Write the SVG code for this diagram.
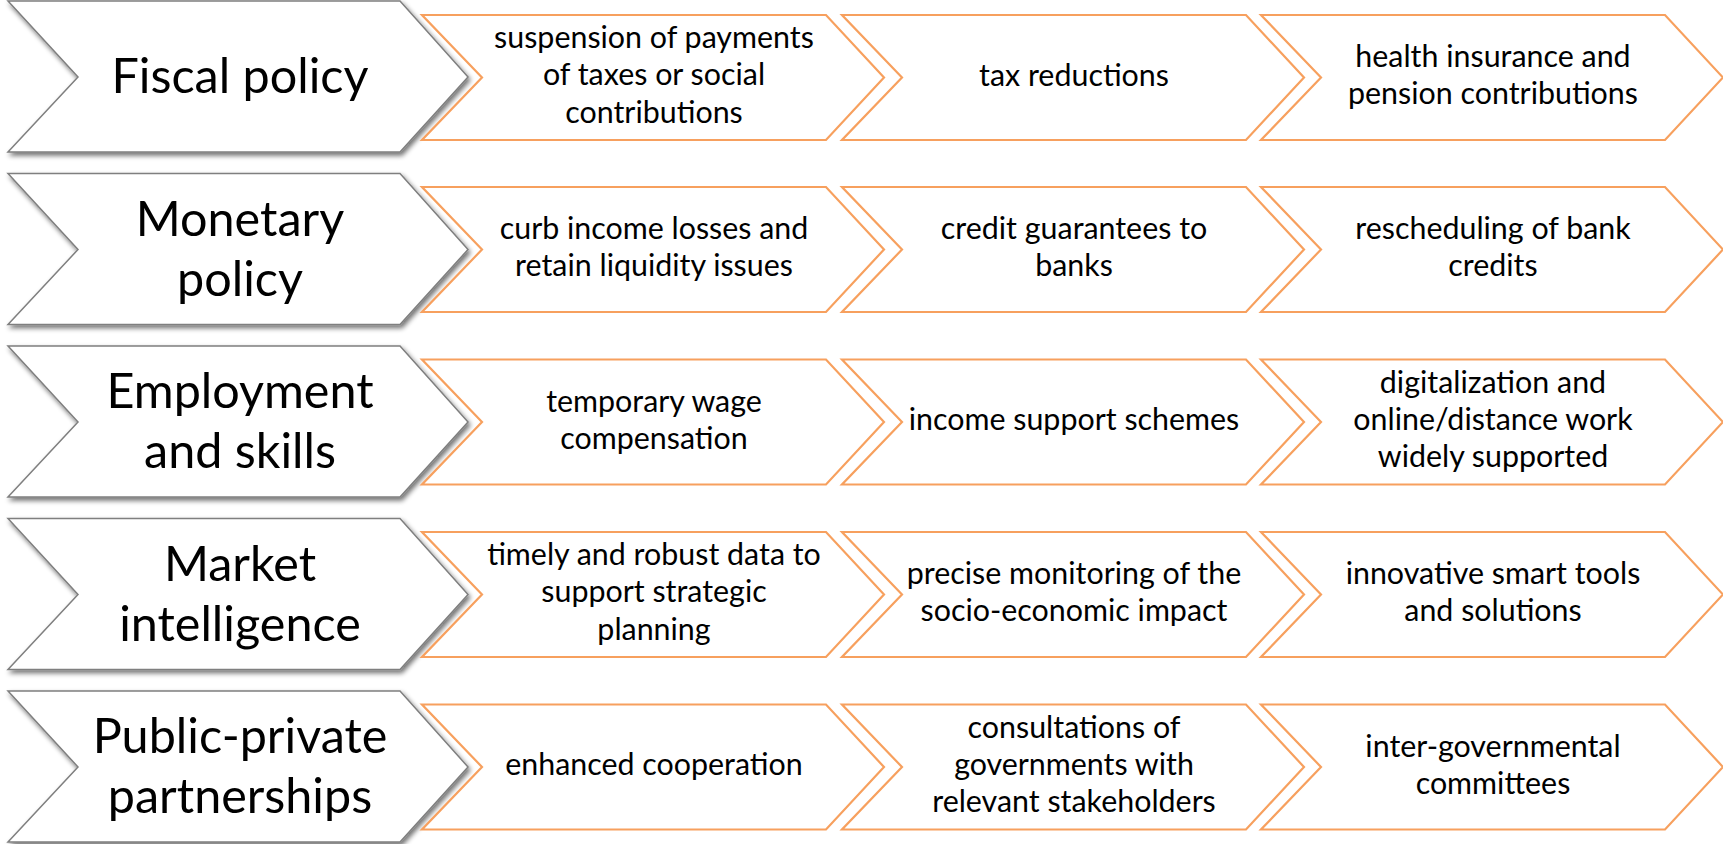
<svg xmlns="http://www.w3.org/2000/svg" width="1723" height="844" viewBox="0 0 1723 844">
<defs>
<filter id="sh" x="-5%" y="-10%" width="115%" height="130%">
<feGaussianBlur in="SourceAlpha" stdDeviation="2.5"/>
<feOffset dx="2" dy="3" result="b"/>
<feComponentTransfer><feFuncA type="linear" slope="0.55"/></feComponentTransfer>
<feMerge><feMergeNode/><feMergeNode in="SourceGraphic"/></feMerge>
</filter>
<path id="big" d="M8,-76 L400,-76 L468,0 L400,75 L8,75 L78,0 Z"/>
<path id="sm" d="M0,-62.5 L404,-62.5 L462,0 L404,62.5 L0,62.5 L60,0 Z"/>
</defs>
<style>
.bg{fill:#ffffff;stroke:#7f7f7f;stroke-width:1.5;filter:url(#sh)}
.st{fill:#ffffff;stroke:#F7A05E;stroke-width:2.2}
.bt{font-family:Lato,"Liberation Sans",sans-serif;font-size:48.5px;fill:#000;text-anchor:middle}
.tt{font-family:Lato,"Liberation Sans",sans-serif;font-size:30.4px;fill:#000;text-anchor:middle}
</style>
<rect width="1723" height="844" fill="#ffffff"/>
<g id="connectors"></g>

<!-- Row 1 -->
<g id="fiscal" transform="translate(0,77)"><use href="#big" class="bg"/><text class="bt" x="240" y="16">Fiscal policy</text></g>
<g id="fiscal-1" transform="translate(422,77.5)"><use href="#sm" class="st"/><text class="tt" x="232"><tspan x="232" y="-29.5">suspension of payments</tspan><tspan x="232" y="7.5">of taxes or social</tspan><tspan x="232" y="45">contributions</tspan></text></g>
<g id="fiscal-2" transform="translate(842,77.5)"><use href="#sm" class="st"/><text class="tt" x="232" y="8">tax reductions</text></g>
<g id="fiscal-3" transform="translate(1261,77.5)"><use href="#sm" class="st"/><text class="tt"><tspan x="232" y="-10.5">health insurance and</tspan><tspan x="232" y="26.5">pension contributions</tspan></text></g>

<!-- Row 2 -->
<g id="monetary" transform="translate(0,249.5)"><use href="#big" class="bg"/><text class="bt"><tspan x="240" y="-14">Monetary</tspan><tspan x="240" y="46">policy</tspan></text></g>
<g id="monetary-1" transform="translate(422,249.5)"><use href="#sm" class="st"/><text class="tt"><tspan x="232" y="-10.5">curb income losses and</tspan><tspan x="232" y="26.5">retain liquidity issues</tspan></text></g>
<g id="monetary-2" transform="translate(842,249.5)"><use href="#sm" class="st"/><text class="tt"><tspan x="232" y="-10.5">credit guarantees to</tspan><tspan x="232" y="26.5">banks</tspan></text></g>
<g id="monetary-3" transform="translate(1261,249.5)"><use href="#sm" class="st"/><text class="tt"><tspan x="232" y="-10.5">rescheduling of bank</tspan><tspan x="232" y="26.5">credits</tspan></text></g>

<!-- Row 3 -->
<g id="employment" transform="translate(0,422)"><use href="#big" class="bg"/><text class="bt"><tspan x="240" y="-14">Employment</tspan><tspan x="240" y="46">and skills</tspan></text></g>
<g id="employment-1" transform="translate(422,422)"><use href="#sm" class="st"/><text class="tt"><tspan x="232" y="-10.5">temporary wage</tspan><tspan x="232" y="26.5">compensation</tspan></text></g>
<g id="employment-2" transform="translate(842,422)"><use href="#sm" class="st"/><text class="tt" x="232" y="8">income support schemes</text></g>
<g id="employment-3" transform="translate(1261,422)"><use href="#sm" class="st"/><text class="tt"><tspan x="232" y="-29.5">digitalization and</tspan><tspan x="232" y="7.5">online/distance work</tspan><tspan x="232" y="45">widely supported</tspan></text></g>

<!-- Row 4 -->
<g id="market" transform="translate(0,594.5)"><use href="#big" class="bg"/><text class="bt"><tspan x="240" y="-14">Market</tspan><tspan x="240" y="46">intelligence</tspan></text></g>
<g id="market-1" transform="translate(422,594.5)"><use href="#sm" class="st"/><text class="tt"><tspan x="232" y="-29.5">timely and robust data to</tspan><tspan x="232" y="7.5">support strategic</tspan><tspan x="232" y="45">planning</tspan></text></g>
<g id="market-2" transform="translate(842,594.5)"><use href="#sm" class="st"/><text class="tt"><tspan x="232" y="-10.5">precise monitoring of the</tspan><tspan x="232" y="26.5">socio-economic impact</tspan></text></g>
<g id="market-3" transform="translate(1261,594.5)"><use href="#sm" class="st"/><text class="tt"><tspan x="232" y="-10.5">innovative smart tools</tspan><tspan x="232" y="26.5">and solutions</tspan></text></g>

<!-- Row 5 -->
<g id="ppp" transform="translate(0,767)"><use href="#big" class="bg"/><text class="bt"><tspan x="240" y="-14">Public-private</tspan><tspan x="240" y="46">partnerships</tspan></text></g>
<g id="ppp-1" transform="translate(422,767)"><use href="#sm" class="st"/><text class="tt" x="232" y="8">enhanced cooperation</text></g>
<g id="ppp-2" transform="translate(842,767)"><use href="#sm" class="st"/><text class="tt"><tspan x="232" y="-29.5">consultations of</tspan><tspan x="232" y="7.5">governments with</tspan><tspan x="232" y="45">relevant stakeholders</tspan></text></g>
<g id="ppp-3" transform="translate(1261,767)"><use href="#sm" class="st"/><text class="tt"><tspan x="232" y="-10.5">inter-governmental</tspan><tspan x="232" y="26.5">committees</tspan></text></g>
</svg>
